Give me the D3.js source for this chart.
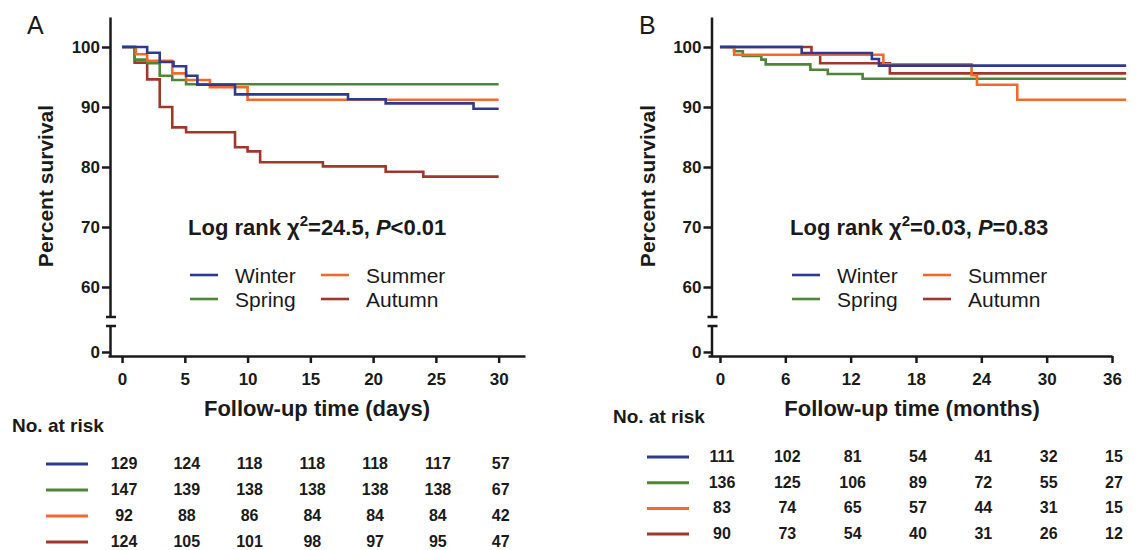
<!DOCTYPE html>
<meta charset="utf-8">
<style>
body { margin: 0; background: #fff; }
svg text { font-family: "Liberation Sans", Arial, sans-serif; fill: #1a1a1a; }
.axis path, .axis line { stroke: #1a1a1a; stroke-width: 2.5; }
.axis text { font-size: 17px; font-weight: bold; }
.km { fill: none; stroke-width: 2.6; }
</style>
<body>
<script src="https://d3js.org/d3.v7.min.js"></script>
<script>
// series names and colours
var seasons = ["Winter", "Spring", "Summer", "Autumn"];
var colors = ["#2e3a8f", "#4e8636", "#f26a2b", "#a1372b"];

// Panel A: follow-up in days (step times and percent survival)
var daysWinter  = [0, 2, 3, 4.1, 5.1, 6, 9, 18, 21, 28, 30];
var survAWinter = [100, 99.05, 97.5, 96.8, 95.2, 93.7, 92.1, 91.3, 90.6, 89.7, 89.7];
var daysSpring  = [0, 1, 2, 3, 4, 5.1, 30];
var survASpring = [100, 97.9, 97.3, 95.2, 94.5, 93.8, 93.8];
var daysSummer  = [0, 1.1, 2, 4, 5.1, 7, 10, 30];
var survASummer = [100, 98.8, 97.7, 95.6, 94.5, 93.3, 91.2, 91.2];
var daysAutumn  = [0, 1, 2, 3, 4, 5.1, 9, 10, 11, 16, 21, 24, 30];
var survAAutumn = [100, 97.4, 94.6, 90.0, 86.6, 85.8, 83.3, 82.6, 80.8, 80.1, 79.2, 78.4, 78.4];

// Panel B: follow-up in months
var monthsWinter = [0, 7.5, 13.95, 14.6, 37.3];
var survBWinter  = [100, 99.0, 98.0, 96.9, 96.9];
var monthsSpring = [0, 1.3, 2.1, 3.8, 4.2, 8.3, 9.9, 13.1, 37.3];
var survBSpring  = [100, 99.3, 98.5, 97.9, 97.1, 96.2, 95.5, 94.7, 94.7];
var monthsSummer = [0, 1.3, 15.0, 23.1, 23.6, 27.3, 37.3];
var survBSummer  = [100, 98.7, 97.1, 95.3, 93.7, 91.2, 91.2];
var monthsAutumn = [0, 8.4, 9.2, 15.6, 37.3];
var survBAutumn  = [100, 98.9, 97.3, 95.6, 95.6];

// tick labels
var yTicks = [60, 70, 80, 90, 100];
var xTicksA = [0, 5, 10, 15, 20, 25, 30];
var xTicksB = [0, 6, 12, 18, 24, 30, 36];

// number at risk (rows: Winter, Spring, Summer, Autumn)
var riskA = [
  [129, 124, 118, 118, 118, 117, 57],
  [147, 139, 138, 138, 138, 138, 67],
  [92, 88, 86, 84, 84, 84, 42],
  [124, 105, 101, 98, 97, 95, 47]
];
var riskB = [
  [111, 102, 81, 54, 41, 32, 15],
  [136, 125, 106, 89, 72, 55, 27],
  [83, 74, 65, 57, 44, 31, 15],
  [90, 73, 54, 40, 31, 26, 12]
];

function zipSeries(t, s) {
  return t.map(function(d, i) { return {t: d, s: s[i]}; });
}

var svg = d3.select("body").append("svg")
    .attr("width", 1137)
    .attr("height", 550);

function drawPanel(p) {
  var g = svg.append("g");

  var x = d3.scaleLinear().domain(p.xDomain).range(p.xRange);
  var yTop = d3.scaleLinear().domain([55, 105]).range([317, 17]);
  var yLow = d3.scaleLinear().domain([-0.67, 4.33]).range([356, 326]);

  // upper y axis
  g.append("g").attr("class", "axis")
      .attr("transform", "translate(" + p.yAxisX + ",0)")
      .call(d3.axisLeft(yTop).tickValues(yTicks).tickSize(8).tickSizeOuter(0).tickPadding(2));
  // lower y axis (after the break)
  g.append("g").attr("class", "axis")
      .attr("transform", "translate(" + p.yAxisX + ",0)")
      .call(d3.axisLeft(yLow).tickValues([0]).tickFormat(d3.format("d"))
        .tickSize(8).tickSizeOuter(0).tickPadding(2));
  // break caps
  [317, 326].forEach(function(yy) {
    g.append("line")
      .attr("x1", p.yAxisX - 4).attr("x2", p.yAxisX + 6)
      .attr("y1", yy).attr("y2", yy)
      .attr("stroke", "#1a1a1a").attr("stroke-width", 2.5);
  });

  // x axis
  g.append("g").attr("class", "axis")
      .attr("transform", "translate(0,356)")
      .call(d3.axisBottom(x).tickValues(p.xTicks).tickSize(7).tickSizeOuter(0).tickPadding(10));

  // survival curves
  var line = d3.line()
      .x(function(d) { return x(d.t); })
      .y(function(d) { return yTop(d.s); })
      .curve(d3.curveStepAfter);
  [3, 1, 2, 0].forEach(function(k) {
    g.append("path")
      .attr("class", "km")
      .attr("stroke", colors[k])
      .attr("d", line(zipSeries(p.times[k], p.surv[k])));
  });

  // panel letter
  g.append("text").attr("x", p.letterX).attr("y", 34)
      .style("font-size", "25px").text(p.letter);

  // axis titles
  g.append("text")
      .attr("transform", "translate(" + p.yTitleX + ",186) rotate(-90)")
      .attr("text-anchor", "middle")
      .style("font-size", "21px").style("font-weight", "bold")
      .text("Percent survival");
  g.append("text")
      .attr("x", p.xTitleX).attr("y", 416)
      .attr("text-anchor", "middle")
      .style("font-size", "22px").style("font-weight", "bold")
      .text(p.xTitle);

  // log rank text
  var lr = g.append("text").attr("x", p.legX).attr("y", 235)
      .style("font-size", "22px").style("font-weight", "bold");
  lr.append("tspan").text("Log rank \u03c7");
  lr.append("tspan").attr("dy", -9).style("font-size", "15px").text("2");
  lr.append("tspan").attr("dy", 9).text(p.chi + ", ");
  lr.append("tspan").style("font-style", "italic").text("P");
  lr.append("tspan").text(p.pval);

  // legend
  var legPos = [[0, 275], [0, 299], [1, 275], [1, 299]];
  seasons.forEach(function(name, k) {
    var lx = p.legX + 2 + legPos[k][0] * p.legColW;
    var ly = legPos[k][1];
    g.append("line")
      .attr("x1", lx).attr("x2", lx + 28)
      .attr("y1", ly).attr("y2", ly)
      .attr("stroke", colors[k]).attr("stroke-width", 2.6);
    g.append("text").attr("x", lx + 45).attr("y", ly + 7.5)
      .style("font-size", "21px").text(name);
  });

  // number at risk table
  g.append("text").attr("x", p.riskLabelX).attr("y", p.riskLabelY)
      .style("font-size", "19px").style("font-weight", "bold")
      .text("No. at risk");
  p.risk.forEach(function(row, k) {
    var ry = p.riskY0 + k * p.riskDY;
    g.append("line")
      .attr("x1", p.riskLineX).attr("x2", p.riskLineX + 42)
      .attr("y1", ry).attr("y2", ry)
      .attr("stroke", colors[k]).attr("stroke-width", 3);
    g.selectAll(null).data(row).enter().append("text")
      .attr("x", function(d, i) { return x(p.xTicks[i]) + 2; })
      .attr("y", ry + 5)
      .attr("text-anchor", "middle")
      .style("font-size", "16px").style("font-weight", "bold")
      .text(function(d) { return d; });
  });
}

drawPanel({
  letter: "A", letterX: 27,
  xDomain: [-1.12, 32.1], xRange: [108, 525],
  xTicks: xTicksA, yAxisX: 110,
  times: [daysWinter, daysSpring, daysSummer, daysAutumn],
  surv: [survAWinter, survASpring, survASummer, survAAutumn],
  yTitleX: 53, xTitleX: 317, xTitle: "Follow-up time (days)",
  legX: 188, legColW: 131, chi: "=24.5", pval: "<0.01",
  risk: riskA, riskLabelX: 12, riskLabelY: 432,
  riskLineX: 46, riskY0: 464, riskDY: 26
});

drawPanel({
  letter: "B", letterX: 639,
  xDomain: [-1.1, 36], xRange: [708, 1112],
  xTicks: xTicksB, yAxisX: 711.5,
  times: [monthsWinter, monthsSpring, monthsSummer, monthsAutumn],
  surv: [survBWinter, survBSpring, survBSummer, survBAutumn],
  yTitleX: 655, xTitleX: 912, xTitle: "Follow-up time (months)",
  legX: 790, legColW: 131, chi: "=0.03", pval: "=0.83",
  risk: riskB, riskLabelX: 613, riskLabelY: 423,
  riskLineX: 647, riskY0: 457, riskDY: 25.7
});
</script>
</body>
